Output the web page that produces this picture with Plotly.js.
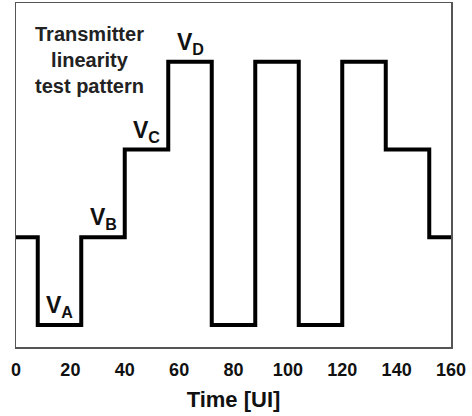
<!DOCTYPE html>
<html>
<head>
<meta charset="utf-8">
<script src="https://cdn.plot.ly/plotly-3.0.1.min.js"></script>
<style>html,body{margin:0;padding:0;background:#fff;}#chart{width:472px;height:416px;}</style>
</head>
<body>
<div id="chart"></div>
<script>
// Time in UI where each level segment starts (last point closes the pattern)
const timeUI = [0, 8, 24, 40, 56, 72, 88, 104, 120, 136, 152, 160];
// Level index: 0=VA, 1=VB, 2=VC, 3=VD
const levelIdx = [1, 0, 1, 2, 3, 0, 3, 0, 3, 2, 1, 1];
// Level labels and the segment centres where they are written
const levelNames = ['A', 'B', 'C', 'D'];
const labelTime = [16, 32, 48, 64];
const labelLevel = [0, 1, 2, 3];
const xTicks = [0, 20, 40, 60, 80, 100, 120, 140, 160];

const FONT = 'Liberation Sans, Arial, sans-serif';

const trace = {
  x: timeUI, y: levelIdx, type: 'scatter', mode: 'lines',
  line: {shape: 'hv', color: '#000', width: 4},
  hoverinfo: 'skip', showlegend: false
};

const annotations = labelTime.map((t, i) => ({
  x: t, y: labelLevel[i], xref: 'x', yref: 'y',
  text: '<b>V<sub>' + levelNames[i] + '</sub></b>',
  showarrow: false, xanchor: 'center', yanchor: 'bottom', yshift: 2,
  font: {family: FONT, size: 23, color: '#111'}
}));
annotations.push({
  x: 0.17, y: 0.835, xref: 'paper', yref: 'paper',
  text: '<b>Transmitter<br>linearity<br>test pattern</b>',
  showarrow: false, xanchor: 'center', yanchor: 'middle', align: 'center',
  font: {family: FONT, size: 20, color: '#222'}
});

const layout = {
  width: 472, height: 416,
  margin: {l: 16, r: 21, t: 3, b: 69},
  paper_bgcolor: '#fff', plot_bgcolor: '#fff',
  showlegend: false,
  xaxis: {
    range: [0, 160], tickvals: xTicks, ticks: '', showgrid: false, zeroline: false,
    showline: true, mirror: true, linecolor: '#555', linewidth: 1.5,
    tickfont: {family: FONT, size: 18, color: '#111', weight: 'bold'},
    ticklabelstandoff: 6,
    title: {text: '<b>Time [UI]</b>', font: {family: FONT, size: 22, color: '#111'}, standoff: 12}
  },
  yaxis: {
    range: [-0.25, 3.67], showticklabels: false, ticks: '', showgrid: false, zeroline: false,
    showline: true, mirror: true, linecolor: '#555', linewidth: 1.5
  },
  annotations: annotations
};

Plotly.newPlot('chart', [trace], layout, {displayModeBar: false, staticPlot: true});
</script>
</body>
</html>
